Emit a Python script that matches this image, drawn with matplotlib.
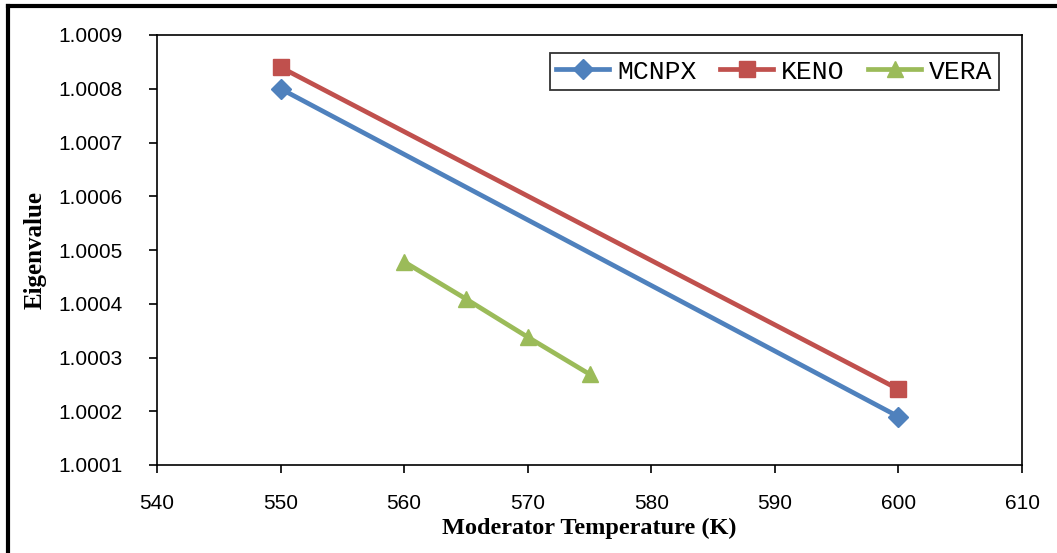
import matplotlib
matplotlib.use('Agg')
import matplotlib.pyplot as plt
from matplotlib.lines import Line2D
import numpy as np

# data
temp_main = [550, 600]
mcnpx = [1.00080, 1.00019]
keno = [1.00084, 1.000241]

temp_vera = [560, 565, 570, 575]
vera = [1.000478, 1.000409, 1.000338, 1.000269]

x_ticks = [540, 550, 560, 570, 580, 590, 600, 610]
y_ticks = [1.0001, 1.0002, 1.0003, 1.0004, 1.0005, 1.0006, 1.0007, 1.0008, 1.0009]

W, H = 1057, 553
fig = plt.figure(figsize=(W / 100, H / 100), dpi=100)
fig.patch.set_facecolor('white')

# plot area in pixel coords of the reference
left, right, top, bottom = 157, 1022, 35, 465
ax = fig.add_axes([left / W, 1 - bottom / H, (right - left) / W, (bottom - top) / H])

ax.plot(temp_main, mcnpx, color='#4F81BD', lw=3.4, marker='D', ms=10,
        label='MCNPX', zorder=3)
ax.plot(temp_main, keno, color='#C0504D', lw=3.4, marker='s', ms=11,
        label='KENO', zorder=3)
ax.plot(temp_vera, vera, color='#9BBB59', lw=3.4, marker='^', ms=12,
        label='VERA', zorder=3)

ax.set_xlim(540, 610)
ax.set_ylim(1.0001, 1.0009)
ax.set_xticks(x_ticks)
ax.set_yticks(y_ticks)
ax.set_xticklabels([str(v) for v in x_ticks], fontsize=15, family='Liberation Sans')
ax.set_yticklabels(['%.4f' % v for v in y_ticks], fontsize=15, family='Liberation Sans')
ax.tick_params(axis='y', direction='out', length=6, width=1.2, pad=19)
ax.tick_params(axis='x', direction='out', length=6, width=1.2, pad=15)

for sp in ax.spines.values():
    sp.set_linewidth(1.2)
    sp.set_color('black')

ax.set_xlabel('Moderator Temperature (K)', fontsize=17.5, fontweight='bold',
              family='Liberation Serif', labelpad=3)
ax.set_ylabel('Eigenvalue', fontsize=18, fontweight='bold',
              family='Liberation Serif', labelpad=8)

leg = ax.legend(loc='upper right', bbox_to_anchor=(0.9734, 0.958), ncol=3,
                borderaxespad=0, frameon=True, fancybox=False,
                prop={'family': 'Liberation Mono', 'size': 19},
                handlelength=2.0, handletextpad=0.3, columnspacing=0.9,
                borderpad=0.25)
leg.get_frame().set_edgecolor('black')
leg.get_frame().set_linewidth(1.3)

# outer border of the picture (cropped on right and bottom)
bx, by = 8 / W, 1 - 6 / H
fig.add_artist(Line2D([bx, bx], [0, by], color='black', lw=3, transform=fig.transFigure))
fig.add_artist(Line2D([bx, 1], [by, by], color='black', lw=3, transform=fig.transFigure))

fig.savefig('out.png', dpi=100)
